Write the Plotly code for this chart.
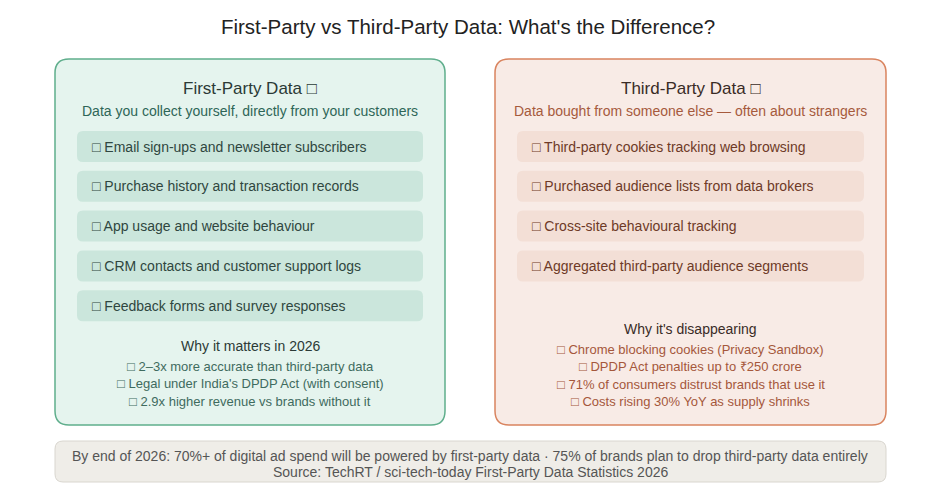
import plotly.graph_objects as go

# page has an 8px body margin, so the figure is drawn slightly smaller
W, H = 920, 476
OFF = 8

title = "First-Party vs Third-Party Data: What's the Difference?"

left_title = "First-Party Data □"
left_subtitle = "Data you collect yourself, directly from your customers"
left_items = [
    "□ Email sign-ups and newsletter subscribers",
    "□ Purchase history and transaction records",
    "□ App usage and website behaviour",
    "□ CRM contacts and customer support logs",
    "□ Feedback forms and survey responses",
]
left_why_title = "Why it matters in 2026"
left_why = [
    "□ 2–3x more accurate than third-party data",
    "□ Legal under India's DPDP Act (with consent)",
    "□ 2.9x higher revenue vs brands without it",
]

right_title = "Third-Party Data □"
right_subtitle = "Data bought from someone else — often about strangers"
right_items = [
    "□ Third-party cookies tracking web browsing",
    "□ Purchased audience lists from data brokers",
    "□ Cross-site behavioural tracking",
    "□ Aggregated third-party audience segments",
]
right_why_title = "Why it's disappearing"
right_why = [
    "□ Chrome blocking cookies (Privacy Sandbox)",
    "□ DPDP Act penalties up to ₹250 crore",
    "□ 71% of consumers distrust brands that use it",
    "□ Costs rising 30% YoY as supply shrinks",
]

footer_lines = [
    "By end of 2026: 70%+ of digital ad spend will be powered by first-party data · 75% of brands plan to drop third-party data entirely",
    "Source: TechRT / sci-tech-today First-Party Data Statistics 2026",
]

FONT = "Liberation Sans, Arial, sans-serif"


def rounded_rect(x0, y0, x1, y1, r):
    x0, x1, y0, y1 = x0 - OFF, x1 - OFF, y0 - OFF, y1 - OFF
    return (f"M{x0 + r},{y0} L{x1 - r},{y0} Q{x1},{y0} {x1},{y0 + r} "
            f"L{x1},{y1 - r} Q{x1},{y1} {x1 - r},{y1} L{x0 + r},{y1} "
            f"Q{x0},{y1} {x0},{y1 - r} L{x0},{y0 + r} Q{x0},{y0} {x0 + r},{y0} Z")


fig = go.Figure()
shapes = []
annotations = []


def text(x, y, s, size, color, anchor="center"):
    annotations.append(dict(x=x - OFF, y=y - OFF, text=s, showarrow=False, xanchor=anchor,
                            yanchor="middle", font=dict(size=size, color=color, family=FONT)))


cards = [
    dict(x0=55, x1=445, fill="#e5f4ee", line="#5fae8c", item_fill="#cbe6dc",
         title_c="#2b3a36", sub_c="#2e6657", item_c="#2f4640", why_c="#3f6b5e",
         title=left_title, sub=left_subtitle, items=left_items,
         why_title=left_why_title, why=left_why, why_y=346),
    dict(x0=495, x1=886, fill="#f8ebe6", line="#d9845f", item_fill="#f3dfd6",
         title_c="#3a2b26", sub_c="#a65a3d", item_c="#6e3a27", why_c="#a5573b",
         title=right_title, sub=right_subtitle, items=right_items,
         why_title=right_why_title, why=right_why, why_y=329),
]

for c in cards:
    x0, x1 = c["x0"], c["x1"]
    cx = (x0 + x1) / 2
    shapes.append(dict(type="path", path=rounded_rect(x0, 59, x1, 425, 14),
                       fillcolor=c["fill"], line=dict(color=c["line"], width=1.5), layer="below"))
    text(cx, 88, c["title"], 17, c["title_c"])
    text(cx, 111, c["sub"], 14, c["sub_c"])
    for i, item in enumerate(c["items"]):
        y0 = 131 + i * 39.8
        shapes.append(dict(type="path", path=rounded_rect(x0 + 22, y0, x1 - 22, y0 + 31, 6),
                           fillcolor=c["item_fill"], line=dict(width=0), layer="below"))
        text(x0 + 35, y0 + 15.5, item, 14, c["item_c"], anchor="left")
    text(cx, c["why_y"], c["why_title"], 14, c["title_c"])
    for i, w in enumerate(c["why"]):
        text(cx, c["why_y"] + 20.5 + i * 17.3, w, 13, c["why_c"])

shapes.append(dict(type="path", path=rounded_rect(55, 441, 886, 482, 8),
                   fillcolor="#efede8", line=dict(color="#d9d6cf", width=1), layer="below"))
for i, s in enumerate(footer_lines):
    text(470, 456 + i * 16, s, 14, "#555555")

fig.add_trace(go.Scatter(x=[0, W], y=[0, H], mode="markers",
                         marker=dict(opacity=0), hoverinfo="skip", showlegend=False))

fig.update_xaxes(visible=False, range=[0, W], fixedrange=True)
fig.update_yaxes(visible=False, range=[H, 0], fixedrange=True)
fig.update_layout(
    width=W, height=H,
    margin=dict(t=0, l=0, r=0, b=0),
    plot_bgcolor="white", paper_bgcolor="white",
    shapes=shapes, annotations=annotations,
    title=dict(text=title, x=(468 - OFF) / W, xanchor="center", y=1 - (27 - OFF) / H,
               yanchor="middle", font=dict(size=20.5, color="#222222", family=FONT)),
    showlegend=False,
)

fig.write_html("out.html")
